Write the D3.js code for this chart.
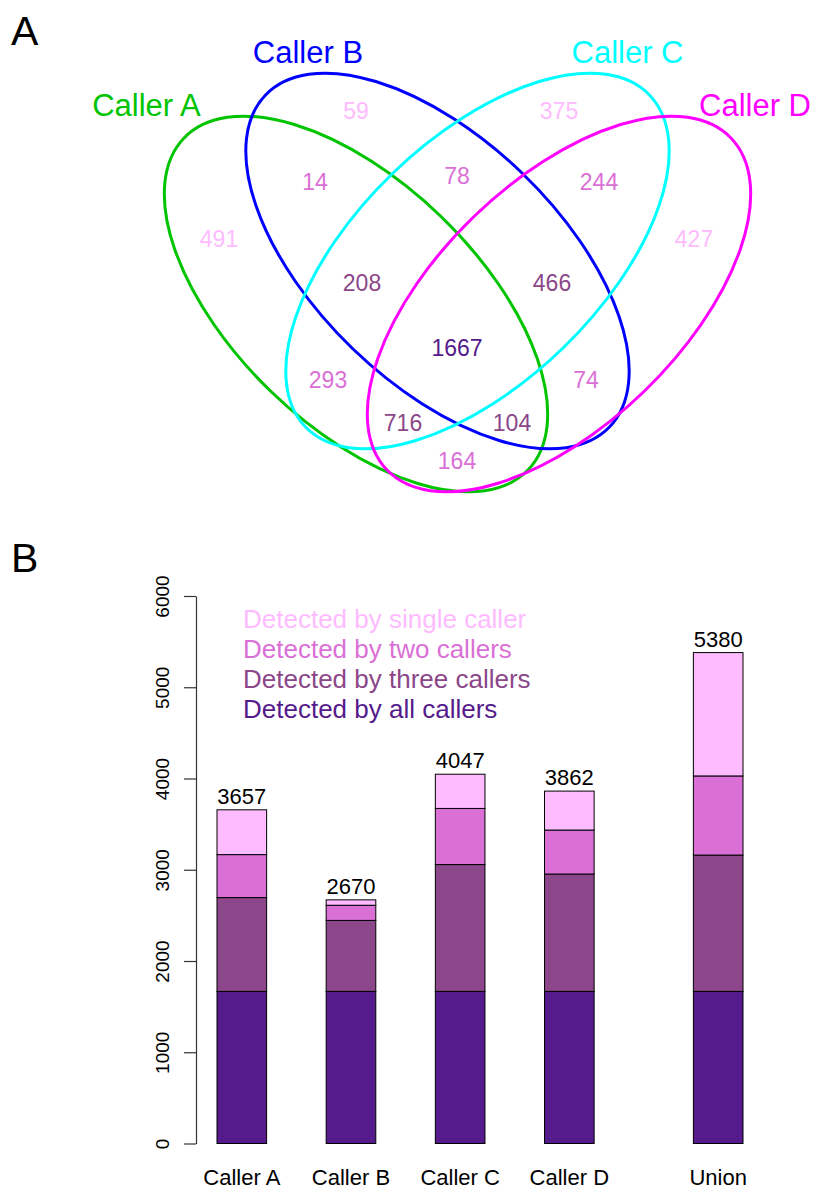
<!DOCTYPE html>
<html>
<head>
<meta charset="utf-8">
<script src="https://cdn.jsdelivr.net/npm/d3@7/dist/d3.min.js"></script>
<style>
  html, body { margin: 0; padding: 0; background: #fff; }
  svg { display: block; font-family: "Liberation Sans", Arial, Helvetica, sans-serif; }
</style>
</head>
<body>
<svg id="fig" width="814" height="1190"></svg>
<script>
// ---- data ----
const callers = ["Caller A", "Caller B", "Caller C", "Caller D"];
const callerKeys = ["A", "B", "C", "D"];
const callerColors = ["#00C400", "#0000FF", "#00FFFF", "#FF00FF"];

// Venn regions: which callers share the variants, and how many
const regionSets = ["A", "B", "C", "D",
                    "AB", "BC", "CD", "AC", "BD", "AD",
                    "ABC", "BCD", "ACD", "ABD",
                    "ABCD"];
const regionCounts = [491, 59, 375, 427,
                      14, 78, 244, 293, 74, 164,
                      208, 466, 716, 104,
                      1667];

const barCategories = ["Caller A", "Caller B", "Caller C", "Caller D", "Union"];
const levelLabels = ["Detected by single caller", "Detected by two callers",
                     "Detected by three callers", "Detected by all callers"];
const levelColors = ["#FFBBFF", "#DA70D6", "#8B4789", "#551A8B"];
const yTicks = [0, 1000, 2000, 3000, 4000, 5000, 6000];

// ---- layout ----
const svg = d3.select("#fig");
const FONT = "'Liberation Sans', Arial, Helvetica, sans-serif";

// Panel letters
svg.append("text").attr("x", 11).attr("y", 45).attr("font-size", 41).text("A");
svg.append("text").attr("x", 11).attr("y", 572).attr("font-size", 41).text("B");

// ---- Panel A: four-set Venn diagram ----
const ellipses = [
  { cx: 356,   cy: 304, rot:  44 },
  { cx: 437.5, cy: 261, rot:  44 },
  { cx: 477.5, cy: 261, rot: -44 },
  { cx: 559,   cy: 304, rot: -44 }
];
const ellA = 239, ellB = 122;

svg.append("g").selectAll("ellipse")
  .data(ellipses)
  .join("ellipse")
  .attr("cx", 0).attr("cy", 0)
  .attr("rx", ellA).attr("ry", ellB)
  .attr("transform", d => `translate(${d.cx},${d.cy}) rotate(${d.rot})`)
  .attr("fill", "none")
  .attr("stroke", (d, i) => callerColors[i])
  .attr("stroke-width", 3);

const callerLabelPos = [[146.5, 116], [308, 63], [627.5, 63], [755, 116]];
svg.append("g").selectAll("text")
  .data(callers)
  .join("text")
  .attr("x", (d, i) => callerLabelPos[i][0])
  .attr("y", (d, i) => callerLabelPos[i][1])
  .attr("text-anchor", "middle")
  .attr("font-size", 31)
  .attr("fill", (d, i) => callerColors[i])
  .text(d => d);

// label centres for each region, in the same order as regionSets
const regionLabelPos = [
  [219, 239], [356, 111], [559, 111], [694, 239],
  [315, 182], [457, 176], [599, 182], [328, 380], [586, 380], [457, 461],
  [362, 283], [552, 283], [403, 423], [512, 423],
  [457, 348]
];
svg.append("g").selectAll("text")
  .data(regionSets)
  .join("text")
  .attr("x", (d, i) => regionLabelPos[i][0])
  .attr("y", (d, i) => regionLabelPos[i][1])
  .attr("dy", "0.36em")
  .attr("text-anchor", "middle")
  .attr("font-size", 23)
  .attr("fill", d => levelColors[d.length - 1])
  .text((d, i) => regionCounts[i]);

// ---- Panel B: stacked bars by number of callers ----
// counts[level] where level 0 = single caller ... 3 = all callers
function levelCounts(filter) {
  const out = [0, 0, 0, 0];
  regionSets.forEach((s, i) => { if (filter(s)) out[s.length - 1] += regionCounts[i]; });
  return out;
}
const barData = barCategories.map((name, j) => {
  const counts = j < 4 ? levelCounts(s => s.includes(callerKeys[j])) : levelCounts(() => true);
  return { name, counts, total: d3.sum(counts) };
});

// barplot-style spacing: gap before each bar, measured in bar widths
const gaps = [1.2, 1.2, 1.2, 1.2, 2.0];
let cursor = 0;
const barLeft = gaps.map(g => { cursor += g; const l = cursor; cursor += 1; return l; });

const x = d3.scaleLinear().domain([1.2, 11.8]).range([217, 743]);
const y = d3.scaleLinear().domain([0, 6000]).range([1143.5, 596]);

const yAxis = d3.axisLeft(y).tickValues(yTicks).tickSizeInner(12).tickSizeOuter(0).tickFormat(d3.format("d"));
const gy = svg.append("g").attr("transform", "translate(196,0)").call(yAxis);
gy.select(".domain").attr("stroke", "#333").attr("stroke-width", 1.2);
gy.selectAll(".tick line").attr("stroke", "#333").attr("stroke-width", 1.2);
gy.selectAll(".tick text")
  .attr("font-family", FONT)
  .attr("font-size", 19)
  .attr("fill", "#000")
  .attr("x", 0).attr("y", -27).attr("dy", 0)
  .attr("text-anchor", "middle")
  .attr("transform", "rotate(-90)");

// stack from bottom: all callers, three, two, single
const stackOrder = [3, 2, 1, 0];
const bars = svg.append("g").selectAll("g")
  .data(barData)
  .join("g");

bars.each(function (d, j) {
  let base = 0;
  const segs = stackOrder.map(level => {
    const s = { level, y0: base, y1: base + d.counts[level] };
    base = s.y1;
    return s;
  });
  d3.select(this).selectAll("rect")
    .data(segs)
    .join("rect")
    .attr("x", x(barLeft[j]))
    .attr("width", x(barLeft[j] + 1) - x(barLeft[j]))
    .attr("y", s => y(s.y1))
    .attr("height", s => y(s.y0) - y(s.y1))
    .attr("fill", s => levelColors[s.level])
    .attr("stroke", "#000")
    .attr("stroke-width", 1);
});

// totals above bars
svg.append("g").selectAll("text")
  .data(barData)
  .join("text")
  .attr("x", (d, j) => x(barLeft[j] + 0.5))
  .attr("y", d => y(d.total) - 6)
  .attr("text-anchor", "middle")
  .attr("font-size", 22)
  .text(d => d.total);

// category labels
svg.append("g").selectAll("text")
  .data(barData)
  .join("text")
  .attr("x", (d, j) => x(barLeft[j] + 0.5))
  .attr("y", 1185)
  .attr("text-anchor", "middle")
  .attr("font-size", 22)
  .text(d => d.name);

// legend (text only, coloured by level)
svg.append("g").selectAll("text")
  .data(levelLabels)
  .join("text")
  .attr("x", 243)
  .attr("y", (d, i) => 628 + i * 30)
  .attr("font-size", 26)
  .attr("fill", (d, i) => levelColors[i])
  .text(d => d);
</script>
</body>
</html>
